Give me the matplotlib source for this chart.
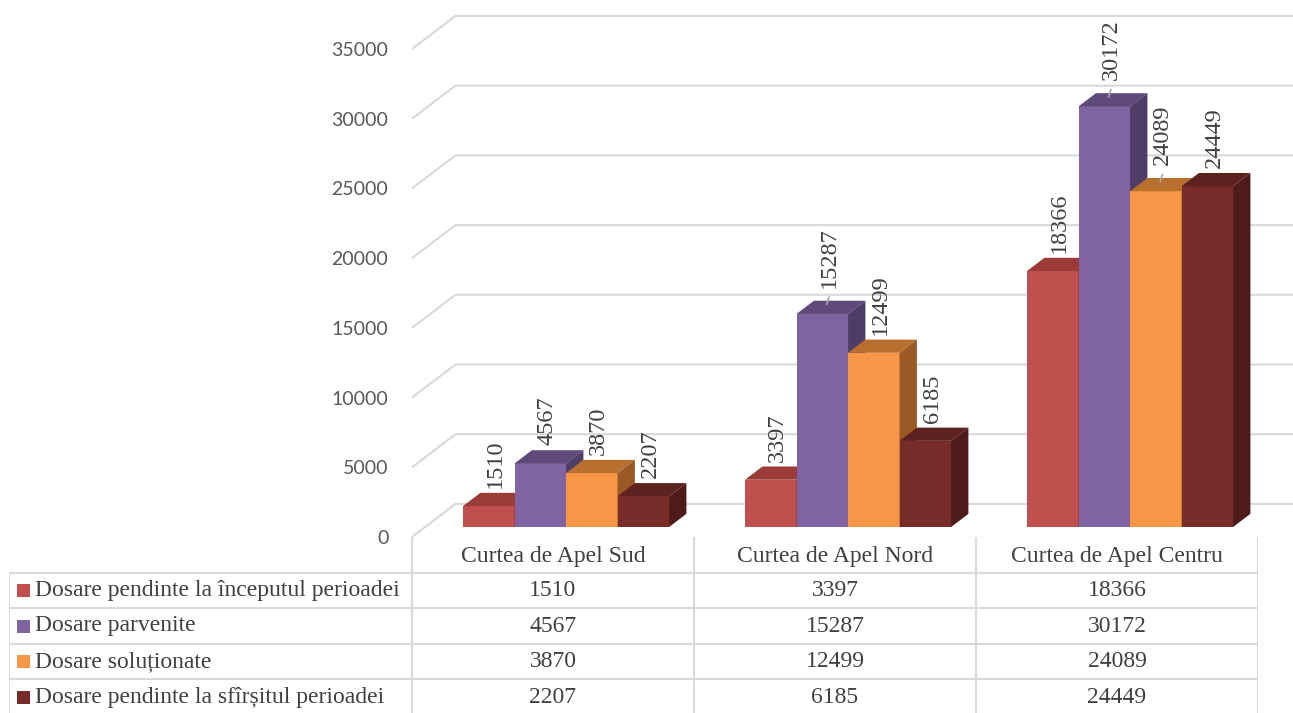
import matplotlib
matplotlib.use('Agg')
import matplotlib.pyplot as plt
from matplotlib.patches import Polygon, Rectangle

# data
categories = ['Curtea de Apel Sud', 'Curtea de Apel Nord', 'Curtea de Apel Centru']
series_names = ['Dosare pendinte la începutul perioadei',
                'Dosare parvenite',
                'Dosare soluționate',
                'Dosare pendinte la sfîrșitul perioadei']
pendinte_inceput = [1510, 3397, 18366]
parvenite = [4567, 15287, 30172]
solutionate = [3870, 12499, 24089]
pendinte_sfarsit = [2207, 6185, 24449]
yticks = [0, 5000, 10000, 15000, 20000, 25000, 30000, 35000]

series = [pendinte_inceput, parvenite, solutionate, pendinte_sfarsit]
front_cols = ['#C0504D', '#8064A2', '#F79646', '#772C2A']
top_cols = ['#9B3C39', '#604A7B', '#B9702F', '#5D2120']
side_cols = ['#7E302E', '#4F3D68', '#9A5A26', '#4E1B1A']
grid_col = '#D9D9D9'
text_col = '#404040'

W, H = 1293, 713
fig = plt.figure(figsize=(W / 100, H / 100), dpi=100)

# main plot area = front plane of the 3D box
ax = fig.add_axes([412 / W, 1 - 537 / H, (1258 - 412) / W, (537 - 49) / H])
ax.set_xlim(0, 3)
ax.set_ylim(0, 35000)
for s in ax.spines.values():
    s.set_visible(False)
ax.set_xticks([])
ax.set_yticks(yticks)
ax.set_yticklabels([str(t) for t in yticks], family='Lato', fontsize=14, color='#595959')
ax.tick_params(axis='y', length=0, pad=17)
ax.patch.set_alpha(0)

# depth of the box in data units
DX = 0.154
DY = 2370

for v in yticks:
    ax.plot([0, DX, 3 + DX + 0.2], [v, v + DY, v + DY], color=grid_col, lw=1.5,
            clip_on=False, zorder=0, solid_capstyle='butt')

# bars
bw = 0.1826
f0, f1 = 0.3, 0.7
bdx, bdy = (f1 - f0) * DX, (f1 - f0) * DY
leaders = {(2, 1), (2, 2), (1, 1)}
for j in range(len(categories)):
    for i, vals in enumerate(series):
        v = vals[j]
        x0 = j + 0.5 - 2 * bw + i * bw + f0 * DX
        b = f0 * DY
        z = 3 + i + 4 * j
        ax.add_patch(Rectangle((x0, b), bw, v, facecolor=front_cols[i], edgecolor='none',
                               zorder=z, clip_on=False))
        ax.add_patch(Polygon([(x0, b + v), (x0 + bw, b + v), (x0 + bw + bdx, b + v + bdy),
                              (x0 + bdx, b + v + bdy)], closed=True, facecolor=top_cols[i],
                             edgecolor='none', zorder=z, clip_on=False))
        ax.add_patch(Polygon([(x0 + bw, b), (x0 + bw, b + v), (x0 + bw + bdx, b + v + bdy),
                              (x0 + bw + bdx, b + bdy)], closed=True, facecolor=side_cols[i],
                             edgecolor='none', zorder=z, clip_on=False))
        cx = x0 + bw / 2 + 0.4 * bdx
        ytop = b + v + bdy
        gap = 5
        if (j, i) in leaders:
            gap = 13
            ax.annotate('', xy=(cx - 0.2 * bdx, b + v + 0.5 * bdy), xycoords='data',
                        xytext=(4, gap), textcoords='offset pixels',
                        arrowprops=dict(arrowstyle='-', color='#A6A6A6', lw=1.2),
                        zorder=30)
        ax.annotate(str(v), xy=(cx, ytop), xytext=(0, gap), textcoords='offset pixels',
                    rotation=90, ha='center', va='bottom', family='Liberation Serif',
                    fontsize=17.5, color=text_col, zorder=30, annotation_clip=False)

# data table below the plot (pixel-like units inside its own axes)
tw, th = 1249, 178
label_w, col_w = 403, 282
row_h = th / 5
tax = fig.add_axes([9 / W, -2 / H, tw / W, th / H])
tax.set_xlim(0, tw)
tax.set_ylim(th, 0)
tax.axis('off')

col_edges = [label_w + k * col_w for k in range(len(categories) + 1)]
# vertical lines of the value columns (header included)
tax.vlines(col_edges, 0, th, color=grid_col, lw=1.5)
# left border of the row label column
tax.vlines([0], row_h, th, color=grid_col, lw=1.5)
# horizontal lines
for r in range(1, 6):
    tax.hlines(r * row_h, 0, tw, color=grid_col, lw=1.5)

tfont = dict(family='Liberation Serif', fontsize=17, color=text_col)
for j, cat in enumerate(categories):
    tax.text(label_w + (j + 0.5) * col_w, 0.55 * row_h, cat, ha='center', va='center', **tfont)
for i, name in enumerate(series_names):
    yc = (i + 1.5) * row_h
    tax.add_patch(Rectangle((8, yc - 6.5), 13, 13, facecolor=front_cols[i], edgecolor='none'))
    tax.text(26, yc, name, ha='left', va='center', **tfont)
    for j in range(len(categories)):
        tax.text(label_w + (j + 0.5) * col_w, yc, str(series[i][j]), ha='center', va='center',
                 **tfont)

fig.savefig('out.png', dpi=100)
